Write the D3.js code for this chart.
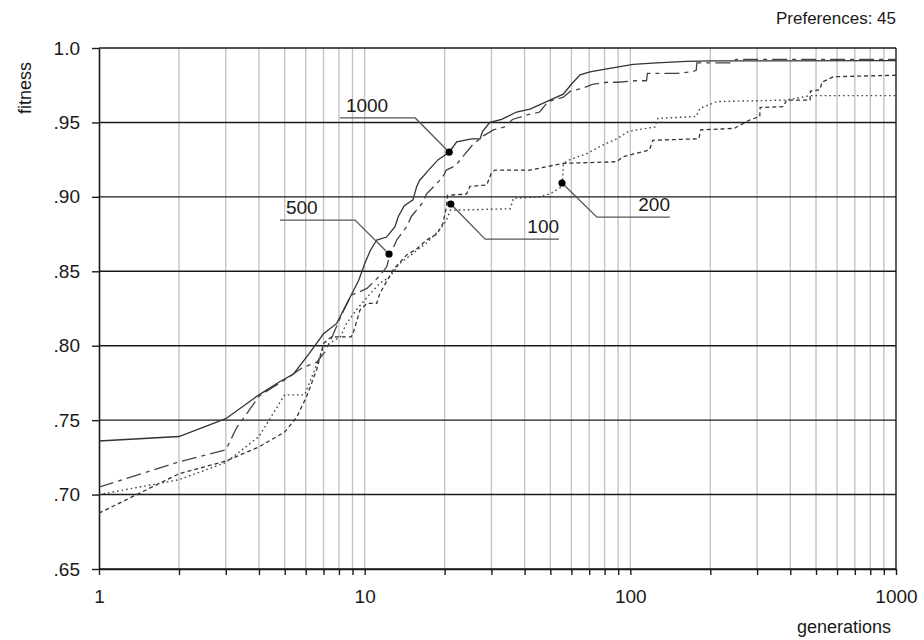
<!DOCTYPE html>
<html><head><meta charset="utf-8">
<script src="https://cdn.jsdelivr.net/npm/d3@7/dist/d3.min.js"></script>
<style>
body{margin:0;background:#fff}
svg text{font-family:"Liberation Sans",Arial,Helvetica,sans-serif;fill:#1a1a1a}
</style>
</head><body>
<svg id="chart" width="924" height="640"></svg>
<script>
// ---- data (generations, fitness) ----
const gen1000=[1,2,3,4,4.8,5.4,6.2,7.0,7.85,8.55,9.5,10,10.5,11.1,12.1,13,13.4,14.1,15.2,15.7,16.1,17.4,18.9,20.8,22.2,25.3,27.2,27.8,29.6,32.8,37.3,41.9,48.4,55.9,60.2,64.7,70.5,81.5,102.6,125.6,163,200,1000];
const fit1000=[.736,.739,.751,.767,.776,.781,.795,.808,.815,.828,.844,.855,.864,.871,.873,.880,.887,.894,.898,.907,.911,.918,.925,.930,.937,.939,.939,.944,.950,.952,.957,.959,.964,.969,.976,.982,.984,.986,.989,.990,.991,.9913,.9915];

const gen500=[1,2,3,3.3,4,4.5,5,5.8,6.6,7.1,7.5,8.1,8.3,8.9,9.5,10.2,11.4,12.1,12.4,13.2,14.4,15,15.5,16.5,17.1,18.7,19.7,20.3,22,23.4,25.5,28,30.5,33.6,36,40.7,45.6,49,56,59.5,66.3,72,82,90,105,115,116,150,170,177,178,240,250,1000];
const fit500=[.705,.722,.730,.745,.766,.772,.777,.785,.789,.796,.805,.819,.823,.834,.836,.8385,.847,.853,.860,.871,.880,.887,.890,.896,.902,.909,.9135,.918,.921,.927,.935,.941,.945,.947,.952,.955,.957,.964,.967,.971,.973,.9755,.977,.977,.978,.978,.983,.983,.984,.985,.990,.990,.9924,.9924];

const gen200=[1,2,3,4,5,5.95,7,8.1,8.55,9.3,10.5,11.4,12.4,13.5,15.2,17.1,19.2,20.3,21,35.3,36.3,45.6,49.8,54.3,55.5,56,59.3,68.5,79.2,89,98.5,124,127,177,183,212,387,475,1000];
const fit200=[.700,.710,.7215,.739,.767,.767,.799,.806,.815,.824,.835,.842,.846,.855,.862,.869,.878,.884,.891,.892,.899,.900,.902,.906,.909,.9225,.925,.929,.935,.939,.944,.947,.9527,.954,.9595,.964,.965,.968,.968];

const gen100=[1,2,3,4,5,5.55,6.05,6.6,7,7.5,8.9,9.07,9.6,10.2,11.1,11.4,12.8,14.4,15.7,17.1,18.7,19.7,20.3,20.5,24.2,24.9,28.8,30,30.9,42,47.6,55.9,88.9,94,118,121.5,181,184,246,281,307,308,377,387,475,476,518,526,581,1000];
const fit100=[.6875,.714,.7225,.732,.742,.752,.766,.784,.8015,.806,.806,.809,.824,.8284,.8284,.835,.851,.861,.865,.871,.875,.882,.893,.901,.902,.907,.908,.916,.918,.918,.920,.9225,.9236,.927,.9315,.938,.939,.945,.946,.9516,.954,.960,.9606,.965,.965,.971,.972,.977,.9807,.9817];

// ---- axis ticks ----
const xTickValues=[1,2,3,4,5,6,7,8,9,10,20,30,40,50,60,70,80,90,100,200,300,400,500,600,700,800,900,1000];
const xTickLabels={1:"1",10:"10",100:"100",1000:"1000"};
const yTickValues=[.65,.70,.75,.80,.85,.90,.95,1.0];
const yTickLabels=[".65",".70",".75",".80",".85",".90",".95","1.0"];

// ---- annotations ----
const annLabels=["1000","500","100","200"];
const annDotGen=[20.8,12.35,21.1,55.3];
const annDotFit=[.930,.8616,.8952,.9093];
const annElbowGen=[15.5,9.2,28.4,74.9];
const annElbowFit=[.953,.8844,.8716,.8864];
const annEndGen=[8.07,4.80,53.9,141];

// ---- drawing ----
const svg=d3.select("#chart");
const x=d3.scaleLog().domain([1,1000]).range([99,896]);
const y=d3.scaleLinear().domain([.65,1]).range([569,48]);

// vertical grid (gray)
svg.append("g").selectAll("line").data(xTickValues.filter(v=>v>1&&v<1000)).join("line")
  .attr("x1",d=>x(d)).attr("x2",d=>x(d)).attr("y1",y(1)).attr("y2",y(.65))
  .attr("stroke","#c4c4c4").attr("stroke-width",1.4);

// horizontal grid (black)
svg.append("g").selectAll("line").data(yTickValues).join("line")
  .attr("x1",x(1)).attr("x2",x(1000)).attr("y1",d=>y(d)).attr("y2",d=>y(d))
  .attr("stroke","#1a1a1a").attr("stroke-width",1.4);

// right border
svg.append("line").attr("x1",x(1000)).attr("x2",x(1000)).attr("y1",y(1)).attr("y2",y(.65))
  .attr("stroke","#1a1a1a").attr("stroke-width",1.4);

// axes
const xAxis=d3.axisBottom(x).tickValues(xTickValues).tickSize(6).tickSizeOuter(0).tickPadding(15)
  .tickFormat(d=>xTickLabels[d]||"");
const gx=svg.append("g").attr("transform",`translate(0,${y(.65)})`).call(xAxis);
gx.selectAll("path").attr("stroke","#1a1a1a").attr("stroke-width",1.4);
gx.selectAll(".tick line").attr("stroke","#1a1a1a").attr("stroke-width",1.4);
gx.selectAll("text").attr("font-size",19).attr("fill","#1a1a1a");

const yAxis=d3.axisLeft(y).tickValues(yTickValues).tickSize(7).tickSizeOuter(0).tickPadding(12)
  .tickFormat((d,i)=>yTickLabels[i]);
const gy=svg.append("g").attr("transform",`translate(${x(1)},0)`).call(yAxis);
gy.selectAll("path").attr("stroke","#1a1a1a").attr("stroke-width",1.6);
gy.selectAll(".tick line").attr("stroke","#1a1a1a").attr("stroke-width",1.4);
gy.selectAll("text").attr("font-size",19).attr("fill","#1a1a1a");
svg.selectAll(".domain").raise;

// series
const line=d3.line().x(d=>x(d[0])).y(d=>y(d[1]));
const series=[
  {g:gen100,f:fit100,dash:"4,3",w:1.3,c:"#333"},
  {g:gen200,f:fit200,dash:"1.6,3",w:1.4,c:"#444"},
  {g:gen500,f:fit500,dash:"15,5,4,5",w:1.3,c:"#444"},
  {g:gen1000,f:fit1000,dash:null,w:1.3,c:"#333"}
];
series.forEach(s=>{
  svg.append("path").datum(s.g.map((g,i)=>[g,s.f[i]]))
    .attr("d",line).attr("fill","none").attr("stroke",s.c).attr("stroke-width",s.w)
    .attr("stroke-dasharray",s.dash);
});

// annotations
annLabels.forEach((lab,i)=>{
  const dx=x(annDotGen[i]),dy=y(annDotFit[i]);
  const ex=x(annElbowGen[i]),ey=y(annElbowFit[i]);
  const fx=x(annEndGen[i]);
  svg.append("polyline").attr("points",`${dx},${dy} ${ex},${ey} ${fx},${ey}`)
    .attr("fill","none").attr("stroke","#555").attr("stroke-width",1.3);
  svg.append("circle").attr("cx",dx).attr("cy",dy).attr("r",3.6).attr("fill","#000");
  const leftEnd=fx<ex;
  svg.append("text").attr("x",leftEnd?fx+6:fx).attr("y",ey-6)
    .attr("text-anchor",leftEnd?"start":"end").attr("font-size",19).text(lab);
});

// titles
svg.append("text").attr("x",896).attr("y",24).attr("text-anchor","end").attr("font-size",17).text("Preferences: 45");
svg.append("text").attr("x",891).attr("y",633).attr("text-anchor","end").attr("font-size",18).text("generations");
svg.append("text").attr("transform","translate(31,88) rotate(-90)").attr("text-anchor","middle").attr("font-size",18).text("fitness");
</script>
</body></html>
